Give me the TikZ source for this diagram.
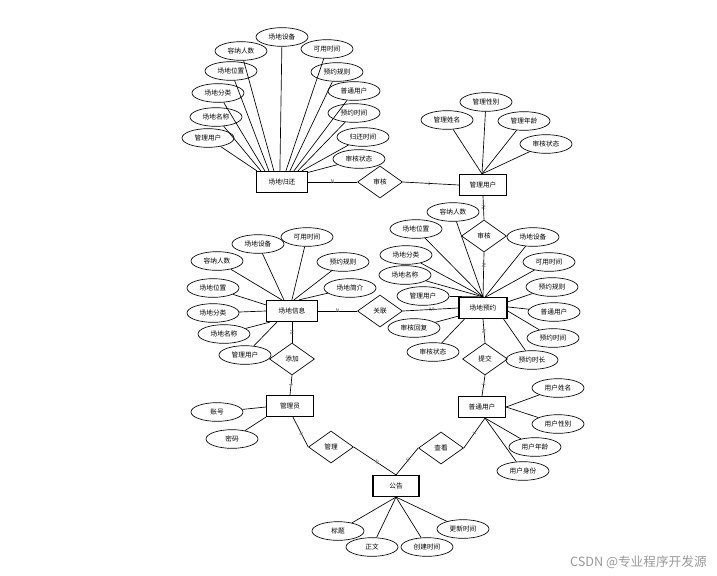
\documentclass[tikz,border=0pt]{standalone}
\usepackage{fontspec}
\newfontfamily\cjk{Noto Sans CJK SC}
\usetikzlibrary{shapes.geometric,calc}
\begin{document}
\begin{tikzpicture}[x=0.75pt,y=-0.75pt,
  every node/.style={font=\cjk\fontsize{5}{6}\selectfont},
  ent/.style={draw, line width=0.9pt, minimum width=35.25pt, minimum height=15.75pt, inner sep=0pt},
  attr/.style={draw, ellipse, line width=0.5pt, minimum width=39pt, minimum height=14pt, inner sep=0pt},
  rel/.style={draw, diamond, line width=0.5pt, minimum width=33.75pt, minimum height=24pt, inner sep=0pt},
  ln/.style={line width=0.5pt},
  card/.style={font=\sffamily\fontsize{4}{4}\selectfont, text=black!60, inner sep=0.5pt, sloped}
]
\useasboundingbox (0,0) rectangle (717,575);

% ---------- 场地归还 ----------
\node[ent, minimum width=38.25pt] (gh) at (282,182) {场地归还};
\node[attr] (gh1) at (208,138) {管理用户};
\node[attr] (gh2) at (216,117) {场地名称};
\node[attr] (gh3) at (218,93) {场地分类};
\node[attr] (gh4) at (231,71) {场地位置};
\node[attr] (gh5) at (241,51) {容纳人数};
\node[attr] (gh6) at (282,37) {场地设备};
\node[attr] (gh7) at (327,49) {可用时间};
\node[attr] (gh8) at (337,72) {预约规则};
\node[attr] (gh9) at (354,91) {普通用户};
\node[attr] (gh10) at (354,113) {预约时间};
\node[attr] (gh11) at (363,137) {归还时间};
\node[attr] (gh12) at (359,159) {审核状态};
\draw[ln] (gh1) -- ($(gh.north west)+(1,0)$);
\draw[ln] (gh2) -- ($(gh.north west)+(5,0)$);
\draw[ln] (gh3) -- ($(gh.north west)+(9,0)$);
\draw[ln] (gh4) -- ($(gh.north west)+(13,0)$);
\draw[ln] (gh5) -- ($(gh.north west)+(18,0)$);
\draw[ln] (gh6) -- ($(gh.north west)+(24,0)$);
\draw[ln] (gh7) -- ($(gh.north west)+(30,0)$);
\draw[ln] (gh8) -- ($(gh.north west)+(34,0)$);
\draw[ln] (gh9) -- ($(gh.north west)+(38,0)$);
\draw[ln] (gh10) -- ($(gh.north west)+(42,0)$);
\draw[ln] (gh11) -- ($(gh.north west)+(46,0)$);
\draw[ln] (gh12) -- ($(gh.north east)+(0,1.5)$);

\node[rel] (sh1) at (380,182) {审核};

% ---------- 管理用户 ----------
\node[ent] (gl) at (483,185) {管理用户};
\node[attr] (gl1) at (447,120) {管理姓名};
\node[attr] (gl2) at (486,102) {管理性别};
\node[attr] (gl3) at (524,121) {管理年龄};
\node[attr] (gl4) at (546,144) {审核状态};
\foreach \i in {1,2,3,4} \draw[ln] (gl\i) -- ($(gl.north)+(-1,0)$);

\draw[ln] (gh.east) -- node[card,pos=0.5]{N} (sh1.west);
\draw[ln] (sh1.east) -- node[card,pos=0.47]{1} (gl.west);

\node[rel] (sh2) at (484,236) {审核};
\draw[ln] (gl.south) -- node[card,pos=0.5]{N} (sh2.north);

% ---------- 场地预约 ----------
\node[ent, minimum width=36pt] (yy) at (483,308) {场地预约};
\node[attr] (yy1) at (453,212) {容纳人数};
\node[attr] (yy2) at (416,229) {场地位置};
\node[attr] (yy3) at (533,237) {场地设备};
\node[attr] (yy4) at (406,255) {场地分类};
\node[attr] (yy5) at (549,262) {可用时间};
\node[attr] (yy6) at (405,275) {场地名称};
\node[attr] (yy7) at (552,287) {预约规则};
\node[attr] (yy8) at (423,296) {管理用户};
\node[attr] (yy9) at (554,312) {普通用户};
\node[attr] (yy10) at (414,328) {审核回复};
\node[attr] (yy11) at (553,338) {预约时间};
\node[attr] (yy12) at (433,352) {审核状态};
\node[attr] (yy13) at (532,360) {预约时长};
\foreach \i in {1,2,4,6,8} \draw[ln] (yy\i) -- (yy.north);
\draw[ln] (yy3) -- ($(yy.north)+(2,0)$);
\draw[ln] (yy5) -- ($(yy.north)+(3,0)$);
\draw[ln] (yy7) -- ($(yy.north east)+(0,5)$);
\draw[ln] (yy9) -- ($(yy.north east)+(0,10)$);
\draw[ln] (yy11) -- ($(yy.north east)+(0,14)$);
\draw[ln] (yy13) -- ($(yy.south east)+(-4,0)$);
\draw[ln] (yy10) -- ($(yy.south west)+(0,-3)$);
\draw[ln] (yy12) -- ($(yy.south west)+(6,0)$);

\draw[ln] (sh2.south) -- node[card,pos=0.3]{N} (yy.north);

% ---------- 场地信息 ----------
\node[ent, minimum width=38.25pt] (xx) at (292,311) {场地信息};
\node[attr] (xx1) at (258,244) {场地设备};
\node[attr] (xx2) at (307,237) {可用时间};
\node[attr] (xx3) at (217,261) {容纳人数};
\node[attr] (xx4) at (343,262) {预约规则};
\node[attr] (xx5) at (213,288) {场地位置};
\node[attr] (xx6) at (350,288) {场地简介};
\node[attr] (xx7) at (213,313) {场地分类};
\node[attr] (xx8) at (224,334) {场地名称};
\node[attr] (xx9) at (245,355) {管理用户};
\draw[ln] (xx1) -- ($(xx.north west)+(18,0)$);
\draw[ln] (xx2) -- ($(xx.north west)+(26,0)$);
\draw[ln] (xx3) -- ($(xx.north west)+(16,0)$);
\draw[ln] (xx4) -- ($(xx.north west)+(28,0)$);
\draw[ln] (xx6) -- ($(xx.north west)+(33,0)$);
\draw[ln] (xx5) -- ($(xx.north west)+(0,5)$);
\draw[ln] (xx7) -- ($(xx.west)+(0,0)$);
\draw[ln] (xx8) -- ($(xx.south west)+(4,0)$);
\draw[ln] (xx9) -- ($(xx.south west)+(11,0)$);

\node[rel] (gx) at (380,311) {关联};
\draw[ln] (xx.east) -- node[card,pos=0.5]{N} (gx.west);
\draw[ln] (gx.east) -- node[card,pos=0.52]{M} (yy.west);

\node[rel] (tj) at (292,359) {添加};
\draw[ln] (xx.south) -- node[card,pos=0.5]{N} (tj.north);

% ---------- 管理员 ----------
\node[ent] (gly) at (290,406) {管理员};
\node[attr] (gly1) at (217,412) {账号};
\node[attr] (gly2) at (232,439) {密码};
\draw[ln] (gly1) -- ($(gly.west)+(0,1)$);
\draw[ln] (gly2) -- (gly.south west);
\draw[ln] (tj.south) -- node[card,pos=0.5]{1} (gly.north);

% ---------- 提交 / 普通用户 ----------
\node[rel] (sub) at (485,359) {提交};
\draw[ln] (yy.south) -- node[card,pos=0.5]{N} (sub.north);
\node[ent] (pt) at (482,407) {普通用户};
\draw[ln] (sub.south) -- node[card,pos=0.45]{1} (pt.north);
\node[attr] (pt1) at (558,388) {用户姓名};
\node[attr] (pt2) at (558,424) {用户性别};
\node[attr] (pt3) at (535,447) {用户年龄};
\node[attr] (pt4) at (523,471) {用户身份};
\draw[ln] (pt1) -- (pt.east);
\draw[ln] (pt2) -- (pt.east);
\draw[ln] (pt3) -- ($(pt.south)+(3,0)$);
\draw[ln] (pt4) -- ($(pt.south)+(3,0)$);

% ---------- 公告 ----------
\node[ent, minimum width=34.5pt] (gg) at (396,486) {公告};
\node[attr] (gg1) at (338,531) {标题};
\node[attr] (gg2) at (372,547) {正文};
\node[attr] (gg3) at (427,547) {创建时间};
\node[attr] (gg4) at (463,529) {更新时间};
\foreach \i in {1,2,3,4} \draw[ln] (gg\i) -- (gg.south);

\node[rel] (gli) at (331,447) {管理};
\draw[ln] ($(gly.south)+(3,0)$) -- node[card,pos=0.55]{1} (gli.west);
\draw[ln] (gli.east) -- node[card,pos=0.55]{N} (gg.north);

\node[rel] (ck) at (441,448) {查看};
\draw[ln] (ck.east) -- node[card,pos=0.5]{1} ($(pt.south)+(3,0)$);
\draw[ln] (ck.west) -- node[card,pos=0.45]{N} (gg.north);

% ---------- watermark ----------
\node[anchor=east, text=black!40, font=\cjk\fontsize{9.5}{10}\selectfont, inner sep=0pt] (wm) at (707,562) {CSDN @专业程序开发源};
\end{tikzpicture}
\end{document}
